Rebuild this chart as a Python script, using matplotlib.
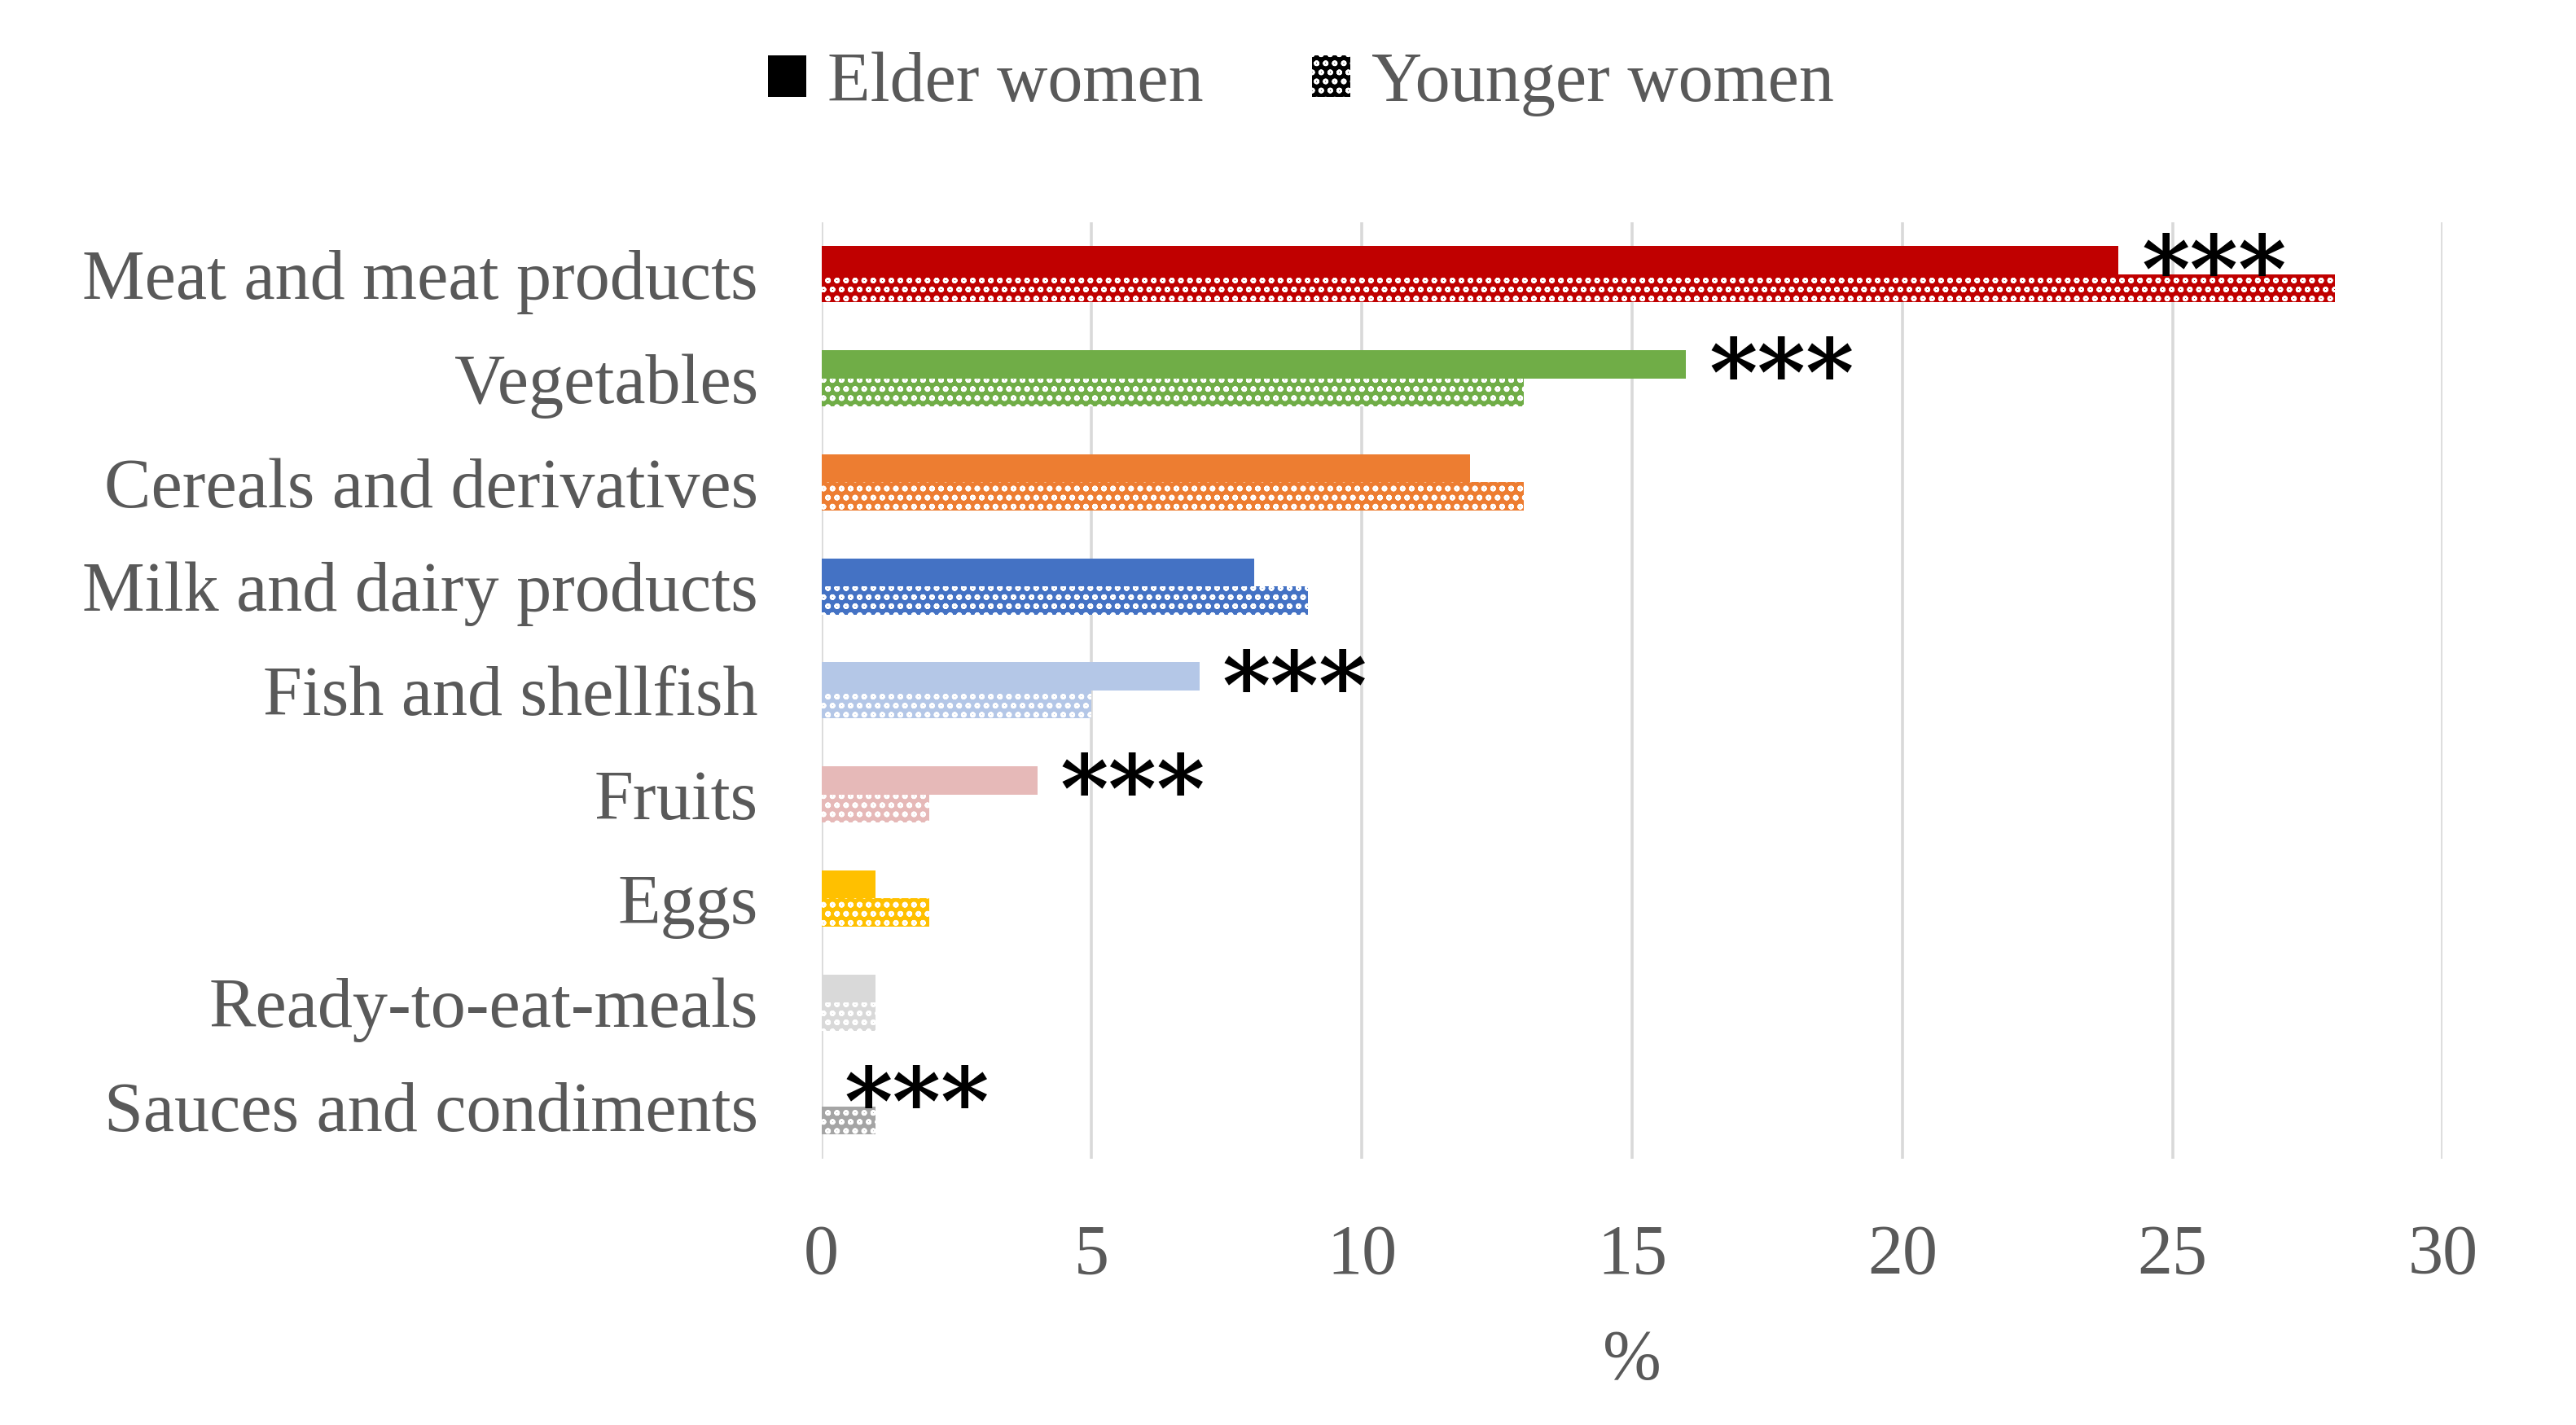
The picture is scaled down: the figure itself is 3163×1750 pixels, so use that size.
import matplotlib.pyplot as plt
import numpy as np
from matplotlib.patches import Patch

# data
categories = ["Meat and meat products", "Vegetables", "Cereals and derivatives",
              "Milk and dairy products", "Fish and shellfish", "Fruits", "Eggs",
              "Ready-to-eat-meals", "Sauces and condiments"]
elder = [24, 16, 12, 8, 7, 4, 1, 1, 0]
younger = [28, 13, 13, 9, 5, 2, 2, 1, 1]
significant = [True, True, False, False, True, True, False, False, True]
colors = ["#C00000", "#70AD47", "#ED7D31", "#4472C4", "#B4C7E7",
          "#E6B9B8", "#FFC000", "#D9D9D9", "#A5A5A5"]
xticks = [0, 5, 10, 15, 20, 25, 30]

plt.rcParams["hatch.linewidth"] = 0.9
font = "Liberation Serif"
grey = "#595959"

fig = plt.figure(figsize=(15.815, 8.75), dpi=200)
ax = fig.add_axes([0.3189, 0.187, 0.6294, 0.657])

y = np.arange(len(categories))
h = 0.27
ax.barh(y - h / 2, elder, height=h, color=colors, linewidth=0, zorder=3)
ax.barh(y + h / 2, younger, height=h, color=colors, edgecolor="white",
        hatch="ooo", linewidth=0, zorder=3)

# significance marks next to the elder bar
for i, sig in enumerate(significant):
    if sig:
        ax.annotate("***", xy=(elder[i], y[i] - h / 2), xytext=(10, -7),
                    textcoords="offset points", ha="left", va="center",
                    fontsize=41, fontweight="bold", color="black",
                    family="DejaVu Serif", zorder=4)

ax.set_xlim(0, 30)
ax.set_ylim(len(categories) - 0.5, -0.5)
ax.set_xticks(xticks)
ax.set_yticks(y)
ax.set_yticklabels(categories)
ax.grid(axis="x", color="#D9D9D9", linewidth=1.3, zorder=0)
ax.set_axisbelow(True)
for s in ax.spines.values():
    s.set_visible(False)
ax.tick_params(length=0, labelsize=31, labelcolor=grey)
ax.tick_params(axis="x", pad=29)
ax.tick_params(axis="y", pad=28)
for lab in ax.get_xticklabels() + ax.get_yticklabels():
    lab.set_family(font)
ax.set_xlabel("%", fontsize=31, color=grey, family=font, labelpad=18)

handles = [Patch(facecolor="black", linewidth=0),
           Patch(facecolor="black", edgecolor="white", hatch="ooo", linewidth=0)]
fig.legend(handles, ["Elder women", "Younger women"], loc="center",
           bbox_to_anchor=(0.505, 0.941), ncol=2, frameon=False,
           prop={"family": font, "size": 31}, labelcolor=grey,
           handlelength=0.55, handleheight=0.55, handletextpad=0.3,
           columnspacing=1.55)

fig.savefig("out.png", dpi=200)
